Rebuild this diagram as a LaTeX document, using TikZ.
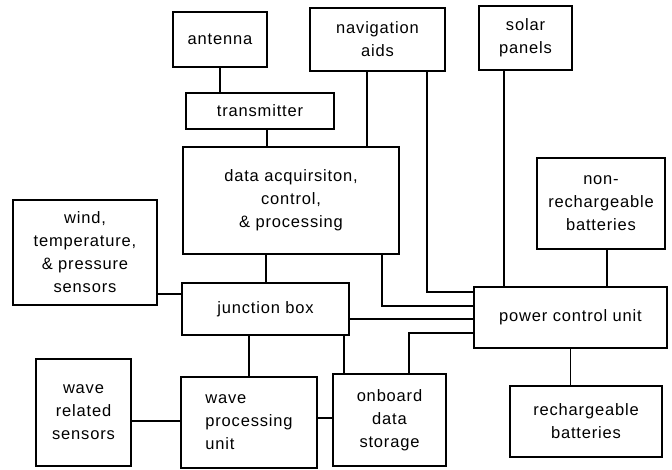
\documentclass[tikz,border=0pt]{standalone}
\usepackage{fontspec}
\setmainfont[LetterSpace=5]{Liberation Sans}
\tikzset{
  box/.style={draw, line width=1.2pt, rectangle, align=center, inner sep=2pt,
    font=\fontsize{16.5}{23}\selectfont},
  wire/.style={line width=1.2pt}
}
\begin{document}
\begin{tikzpicture}[x=1pt,y=-1pt]
\useasboundingbox[fill=white] (0,0) rectangle (672,470);
\node[box, minimum width=94, minimum height=55] (antenna) at (220,39.5) {antenna};
\node[box, minimum width=135, minimum height=63] (nav) at (377.5,39.5) {navigation\\aids};
\node[box, minimum width=93, minimum height=64] (solar) at (525.5,38) {solar\\panels};
\node[box, minimum width=148, minimum height=36] (trans) at (260,111) {transmitter};
\node[box, minimum width=216, minimum height=107] (data) at (291,200.5) {data acquirsiton,\\control,\\\& processing};
\node[box, minimum width=128, minimum height=91] (nonrech) at (601,203.5) {non-\\rechargeable\\batteries};
\node[box, minimum width=144, minimum height=105] (wind) at (85,252.5) {wind,\\temperature,\\\& pressure\\sensors};
\node[box, minimum width=167, minimum height=52] (junction) at (265.5,309) {junction box};
\node[box, minimum width=193, minimum height=61] (power) at (570.5,317.5) {power control unit};
\node[box, minimum width=95, minimum height=107] (wavesens) at (83.5,412.5) {wave\\related\\sensors};
\node[box, minimum width=136, minimum height=91, align=left] (waveproc) at (249,422.5) {wave\\processing\\unit};
\node[box, minimum width=113, minimum height=92] (onboard) at (389.5,420) {onboard\\data\\storage};
\node[box, minimum width=152, minimum height=71] (rech) at (586,421.5) {rechargeable\\batteries};

\draw[wire] (antenna.south) -- (antenna.south |- trans.north);
\draw[wire] ([xshift=7pt]trans.south) -- ([xshift=7pt]trans.south |- data.north);
\draw[wire] ([xshift=-10.5pt]nav.south) -- ([xshift=-10.5pt]nav.south |- data.north);
\draw[wire] ([xshift=49.5pt]nav.south) |- ([yshift=25.5pt]power.west);
\draw[wire] ([xshift=91pt]data.south) |- ([yshift=11.5pt]power.west);
\draw[wire] ([yshift=-10pt]junction.east) -- ([yshift=-10pt]junction.east -| power.west);
\draw[wire] ([xshift=19.5pt]onboard.north) |- ([yshift=-15.5pt]power.west);
\draw[wire] ([xshift=-25pt]data.south) -- ([xshift=-25pt]data.south |- junction.north);
\draw[wire] ([yshift=-41.5pt]wind.east) -- ([yshift=-41.5pt]wind.east -| junction.west);
\draw[wire] ([xshift=-21.5pt]solar.south) -- ([xshift=-21.5pt]solar.south |- power.north);
\draw[wire] ([xshift=6pt]nonrech.south) -- ([xshift=6pt]nonrech.south |- power.north);
\draw[wire] (power.south) -- (power.south |- rech.north);
\draw[wire] ([xshift=-16.5pt]junction.south) -- ([xshift=-16.5pt]junction.south |- waveproc.north);
\draw[wire] ([xshift=78.5pt]junction.south) -- ([xshift=78.5pt]junction.south |- onboard.north);
\draw[wire] ([yshift=-8.5pt]wavesens.east) -- ([yshift=-8.5pt]wavesens.east -| waveproc.west);
\draw[wire] ([yshift=4.5pt]waveproc.east) -- ([yshift=4.5pt]waveproc.east -| onboard.west);
\end{tikzpicture}
\end{document}
